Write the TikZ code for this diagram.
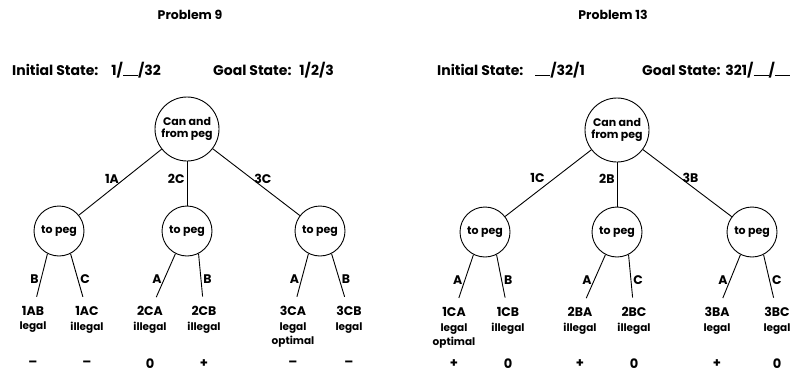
\documentclass[tikz,border=0pt]{standalone}
\usepackage{fontspec}
\setmainfont{Poppins}
\usetikzlibrary{positioning}

% blank peg in a state string
\newcommand{\blankpeg}{\rule[-0.6pt]{15pt}{1pt}}

\begin{document}
\begin{tikzpicture}[
    x=1pt, y=-1pt,
    node distance=102pt,
    peg/.style={circle, draw, line width=0.9pt, inner sep=0pt, minimum size=50pt, font=\bfseries\fontsize{11}{11}\selectfont},
    root/.style={peg, minimum size=64pt, align=center, font=\bfseries\fontsize{11}{12.5}\selectfont},
    move/.style={inner sep=1pt, font=\bfseries\fontsize{12.5}{13}\selectfont},
    verdict/.style={inner sep=0pt, align=center, font=\bfseries\fontsize{10.5}{14.5}\selectfont},
    score/.style={inner sep=1pt, font=\bfseries\fontsize{13}{13}\selectfont},
    heading/.style={inner sep=1pt, font=\bfseries\fontsize{12.5}{13}\selectfont},
    statetext/.style={inner sep=1pt, font=\bfseries\fontsize{14}{15}\selectfont},
    edge/.style={line width=0.9pt},
    lbl/.style={inner sep=2pt, font=\bfseries\fontsize{12.5}{13}\selectfont}
]
    \useasboundingbox (0,0) rectangle (795,375);
    \coordinate (scorerow) at (0,364);

    % ---- Problem 9 ----
    \node[heading] (p9) at (190,15) {Problem 9};
    \node[statetext, anchor=west] (init9) at (11,70) {Initial State:\hspace{13pt}1/\blankpeg/32};
    \node[statetext, anchor=west] (goal9) at (212,70) {Goal State:\hspace{8pt}1/2/3};

    \node[root] (r9) at (187,129) {Can and\\from peg};
    \node[peg, below of=r9, xshift=-128pt] (a9) {to peg};
    \node[peg, below of=r9] (b9) {to peg};
    \node[peg, below of=r9, xshift=133pt] (c9) {to peg};

    \draw[edge] (r9) -- node[lbl, left, pos=.45, xshift=-3pt] {1A} (a9);
    \draw[edge] (r9) -- node[lbl, left, pos=.4] {2C} (b9);
    \draw[edge] (r9) -- node[lbl, right, pos=.45] {3C} (c9);

    \node[move, below=49pt of a9, xshift=-26pt] (a9l) {1AB};
    \node[move, below=49pt of a9, xshift=28pt] (a9r) {1AC};
    \node[move, below=49pt of b9, xshift=-37pt] (b9l) {2CA};
    \node[move, below=49pt of b9, xshift=17pt] (b9r) {2CB};
    \node[move, below=49pt of c9, xshift=-27pt] (c9l) {3CA};
    \node[move, below=49pt of c9, xshift=29pt] (c9r) {3CB};

    \draw[edge, shorten >=9pt] (a9.243) -- node[lbl, left] {B} (a9l);
    \draw[edge, shorten >=9pt] (a9.297) -- node[lbl, right] {C} (a9r);
    \draw[edge, shorten >=9pt] (b9.243) -- node[lbl, left] {A} (b9l);
    \draw[edge, shorten >=9pt] (b9.297) -- node[lbl, right] {B} (b9r);
    \draw[edge, shorten >=9pt] (c9.243) -- node[lbl, left] {A} (c9l);
    \draw[edge, shorten >=9pt] (c9.297) -- node[lbl, right] {B} (c9r);

    \node[verdict, below=5pt of a9l] {legal};
    \node[verdict, below=5pt of a9r] {illegal};
    \node[verdict, below=5pt of b9l] {illegal};
    \node[verdict, below=5pt of b9r] {illegal};
    \node[verdict, below=5pt of c9l] {legal\\optimal};
    \node[verdict, below=5pt of c9r] {legal};

    \node[score] at (a9l |- scorerow) {--};
    \node[score] at (a9r |- scorerow) {--};
    \node[score] at (b9l |- scorerow) {0};
    \node[score] at (b9r |- scorerow) {+};
    \node[score] at (c9l |- scorerow) {--};
    \node[score] at (c9r |- scorerow) {--};

    % ---- Problem 13 ----
    \node[heading] (p13) at (613,15) {Problem 13};
    \node[statetext, anchor=west] (init13) at (436,70) {Initial State:\hspace{12pt}\blankpeg/32/1};
    \node[statetext, anchor=west] (goal13) at (641,70) {Goal State:\hspace{5pt}321/\blankpeg/\blankpeg};

    \node[root] (r13) at (617,130) {Can and\\from peg};
    \node[peg, below of=r13, xshift=-132pt] (a13) {to peg};
    \node[peg, below of=r13] (b13) {to peg};
    \node[peg, below of=r13, xshift=135pt] (c13) {to peg};

    \draw[edge] (r13) -- node[lbl, left, pos=.42, xshift=-8pt] {1C} (a13);
    \draw[edge] (r13) -- node[lbl, left, pos=.38] {2B} (b13);
    \draw[edge] (r13) -- node[lbl, right, pos=.42] {3B} (c13);

    \node[move, below=49pt of a13, xshift=-31pt] (a13l) {1CA};
    \node[move, below=49pt of a13, xshift=23pt] (a13r) {1CB};
    \node[move, below=49pt of b13, xshift=-37pt] (b13l) {2BA};
    \node[move, below=49pt of b13, xshift=17pt] (b13r) {2BC};
    \node[move, below=49pt of c13, xshift=-35pt] (c13l) {3BA};
    \node[move, below=49pt of c13, xshift=25pt] (c13r) {3BC};

    \draw[edge, shorten >=9pt] (a13.243) -- node[lbl, left] {A} (a13l);
    \draw[edge, shorten >=9pt] (a13.297) -- node[lbl, right] {B} (a13r);
    \draw[edge, shorten >=9pt] (b13.243) -- node[lbl, left] {A} (b13l);
    \draw[edge, shorten >=9pt] (b13.297) -- node[lbl, right] {C} (b13r);
    \draw[edge, shorten >=9pt] (c13.243) -- node[lbl, left] {A} (c13l);
    \draw[edge, shorten >=9pt] (c13.297) -- node[lbl, right] {C} (c13r);

    \node[verdict, below=5pt of a13l] {legal\\optimal};
    \node[verdict, below=5pt of a13r] {illegal};
    \node[verdict, below=5pt of b13l] {illegal};
    \node[verdict, below=5pt of b13r] {illegal};
    \node[verdict, below=5pt of c13l] {legal};
    \node[verdict, below=5pt of c13r] {legal};

    \node[score] at (a13l |- scorerow) {+};
    \node[score] at (a13r |- scorerow) {0};
    \node[score] at (b13l |- scorerow) {+};
    \node[score] at (b13r |- scorerow) {0};
    \node[score] at (c13l |- scorerow) {+};
    \node[score] at (c13r |- scorerow) {0};
\end{tikzpicture}
\end{document}
